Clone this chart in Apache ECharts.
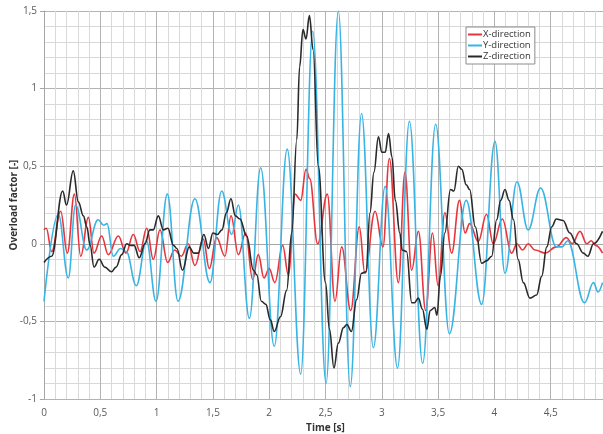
<!DOCTYPE html>
<html>
<head>
<meta charset="utf-8">
<script src="https://cdn.jsdelivr.net/npm/echarts@6/dist/echarts.min.js"></script>
<style>
html,body{margin:0;padding:0;background:#fff;}
#c{width:603px;height:434px;}
</style>
</head>
<body>
<div id="c"></div>
<script>
// X-direction (red)
var redT = [0.0,0.02,0.068,0.148,0.207,0.27,0.326,0.394,0.444,0.512,0.571,0.66,0.728,0.793,0.853,0.912,0.971,1.03,1.098,1.16,1.22,1.28,1.34,1.415,1.468,1.533,1.607,1.661,1.726,1.791,1.853,1.903,1.954,2.0,2.05,2.12,2.17,2.23,2.28,2.327,2.36,2.43,2.516,2.584,2.644,2.724,2.80,2.85,2.94,3.01,3.067,3.147,3.206,3.265,3.325,3.39,3.45,3.50,3.56,3.62,3.69,3.74,3.78,3.857,3.93,3.99,4.07,4.153,4.2,4.25,4.3,4.36,4.45,4.55,4.64,4.69,4.76,4.82,4.86,4.9,4.96];
var redV = [0.09,0.10,-0.05,0.21,-0.06,0.32,-0.08,0.17,-0.06,0.05,-0.07,0.05,-0.06,0.06,-0.05,0.10,-0.10,0.09,-0.12,-0.04,-0.08,0.0,-0.14,0.03,-0.16,0.04,-0.08,0.18,-0.07,0.07,-0.23,-0.07,-0.22,-0.16,-0.25,-0.01,-0.20,0.32,0.28,0.48,0.42,0.0,0.32,-0.37,-0.02,-0.43,0.11,-0.19,0.21,-0.02,0.55,-0.25,0.46,-0.17,0.08,-0.43,0.07,-0.27,0.20,-0.06,0.28,0.07,0.13,0.015,0.19,0.0,0.16,-0.06,0.0,-0.04,0.0,-0.04,-0.06,-0.02,0.04,0.0,0.08,0.0,0.02,-0.01,-0.06];

// Y-direction (blue)
var blueT = [0.0,0.127,0.216,0.28,0.38,0.48,0.53,0.56,0.615,0.68,0.73,0.82,0.91,0.995,1.095,1.19,1.34,1.474,1.578,1.667,1.726,1.824,1.924,2.045,2.16,2.28,2.386,2.505,2.614,2.72,2.82,2.925,3.03,3.14,3.245,3.363,3.478,3.6,3.75,3.887,4.005,4.094,4.2,4.30,4.41,4.55,4.6,4.65,4.80,4.88,4.92,4.96];
var blueV = [-0.37,0.19,-0.22,0.25,-0.04,0.155,0.12,0.13,-0.08,-0.03,-0.05,-0.27,0.02,-0.37,0.32,-0.37,0.29,-0.25,0.34,0.06,0.25,-0.48,0.49,-0.66,0.61,-0.84,1.37,-0.90,1.50,-0.92,0.84,-0.67,0.37,-0.80,0.79,-0.77,0.77,-0.58,0.28,-0.39,0.66,-0.19,0.40,0.09,0.36,-0.02,-0.02,0.02,-0.38,-0.25,-0.31,-0.25];

// Z-direction (black)
var blackT = [0.0,0.068,0.166,0.2,0.26,0.305,0.35,0.38,0.41,0.444,0.49,0.54,0.60,0.64,0.69,0.734,0.77,0.80,0.846,0.897,0.94,0.97,1.015,1.06,1.10,1.15,1.18,1.23,1.29,1.33,1.37,1.42,1.46,1.50,1.54,1.58,1.62,1.66,1.70,1.74,1.80,1.86,1.89,1.93,1.97,2.01,2.045,2.10,2.155,2.2,2.245,2.27,2.30,2.327,2.357,2.39,2.436,2.5,2.535,2.575,2.614,2.66,2.69,2.73,2.776,2.82,2.86,2.895,2.93,2.97,3.0,3.03,3.06,3.09,3.12,3.16,3.18,3.22,3.266,3.29,3.325,3.36,3.40,3.43,3.47,3.49,3.52,3.56,3.61,3.64,3.68,3.71,3.75,3.78,3.83,3.887,3.93,3.976,4.02,4.056,4.094,4.13,4.17,4.21,4.257,4.316,4.375,4.42,4.465,4.51,4.55,4.61,4.67,4.73,4.79,4.83,4.88,4.96];
var blackV = [-0.12,-0.08,0.34,0.25,0.47,0.27,0.18,0.11,-0.01,-0.15,-0.10,-0.15,-0.18,-0.15,-0.07,0.0,-0.01,-0.01,-0.09,0.0,0.09,0.09,0.18,0.09,0.10,-0.01,-0.03,-0.17,-0.02,-0.06,-0.06,0.06,-0.03,0.07,0.06,0.09,0.20,0.29,0.18,0.16,0.05,-0.17,-0.20,-0.37,-0.39,-0.49,-0.565,-0.47,-0.30,0.07,0.67,1.14,1.38,1.32,1.47,1.25,0.50,-0.25,-0.55,-0.80,-0.64,-0.54,-0.52,-0.565,-0.36,-0.19,-0.18,0.20,0.46,0.69,0.59,0.59,0.71,0.56,0.28,0.07,-0.04,-0.05,-0.38,-0.38,-0.35,-0.42,-0.55,-0.43,-0.41,-0.46,-0.21,0.07,0.35,0.34,0.50,0.48,0.38,0.35,0.11,-0.125,-0.11,-0.08,0.155,0.28,0.35,0.28,0.155,-0.10,-0.25,-0.35,-0.33,-0.21,-0.02,0.11,0.16,0.15,0.07,0.0,-0.06,-0.08,0.0,0.08];

var seriesNames = ['X-direction','Y-direction','Z-direction'];
var xTickLabels = ['0','0,5','1','1,5','2','2,5','3','3,5','4','4,5'];
var yTickLabels = ['-1','-0,5','0','0,5','1','1,5'];

function pairs(t, v){ return t.map(function(x,i){ return [x, v[i]]; }); }
function fmt(val){ return String(Math.round(val*10)/10).replace('.', ','); }

var chart = echarts.init(document.getElementById('c'), null, {renderer:'canvas'});
var font = '"Open Sans", "Liberation Sans", sans-serif';
chart.setOption({
  animation:false,
  backgroundColor:'#ffffff',
  textStyle:{fontFamily:font},
  grid:{left:44, top:11, right:-4, bottom:35, containLabel:false, outerBoundsMode:'none'},
  legend:{
    orient:'vertical', left:466, top:27,
    data:seriesNames,
    backgroundColor:'#ffffff',
    borderColor:'#8c8c8c', borderWidth:1, borderRadius:0,
    padding:[2,4,2,2], itemGap:0,
    itemWidth:14, itemHeight:2, icon:'rect',
    textStyle:{fontSize:9.5, lineHeight:11, color:'#333333', fontFamily:font, padding:[0,0,0,-4]}
  },
  xAxis:{
    type:'value', min:0, max:5, interval:0.5,
    name:'Time [s]', nameLocation:'middle', nameGap:22,
    nameTextStyle:{fontWeight:'bold', fontSize:10, color:'#333'},
    axisLine:{lineStyle:{color:'#a6a6a6'}},
    axisTick:{show:false},
    minorTick:{show:false, splitNumber:5},
    minorSplitLine:{show:true, lineStyle:{color:'#d9d9d9', width:1}},
    splitLine:{show:true, lineStyle:{color:'#b3b3b3', width:1}},
    axisLabel:{color:'#595959', fontSize:10, margin:9, showMaxLabel:false,
      formatter:function(v){ var i = Math.round(v/0.5); return xTickLabels[i] !== undefined ? xTickLabels[i] : fmt(v); }}
  },
  yAxis:{
    type:'value', min:-1, max:1.5, interval:0.5,
    name:'Overload factor [-]', nameLocation:'middle', nameGap:25, nameMoveOverlap:false,
    nameTextStyle:{fontWeight:'bold', fontSize:10, color:'#333'},
    axisLine:{show:true, lineStyle:{color:'#a6a6a6'}},
    axisTick:{show:true, length:4, lineStyle:{color:'#a6a6a6'}},
    minorTick:{show:false, splitNumber:5},
    minorSplitLine:{show:true, lineStyle:{color:'#d9d9d9', width:1}},
    splitLine:{show:true, lineStyle:{color:'#b3b3b3', width:1}},
    axisLabel:{color:'#595959', fontSize:10, margin:7,
      formatter:function(v){ var i = Math.round((v+1)/0.5); return yTickLabels[i] !== undefined ? yTickLabels[i] : fmt(v); }}
  },
  series:[
    {name:seriesNames[0], type:'line', data:pairs(redT, redV), smooth:0.4, smoothMonotone:'x', showSymbol:false,
      lineStyle:{color:'#e8343c', width:1.6}, itemStyle:{color:'#e8343c'}},
    {name:seriesNames[1], type:'line', data:pairs(blueT, blueV), smooth:0.4, smoothMonotone:'x', showSymbol:false,
      lineStyle:{color:'#38b4e4', width:1.6}, itemStyle:{color:'#38b4e4'}},
    {name:seriesNames[2], type:'line', data:pairs(blackT, blackV), smooth:0.4, smoothMonotone:'x', showSymbol:false,
      lineStyle:{color:'#2a2a2a', width:1.6}, itemStyle:{color:'#2a2a2a'}}
  ]
});
</script>
</body>
</html>
